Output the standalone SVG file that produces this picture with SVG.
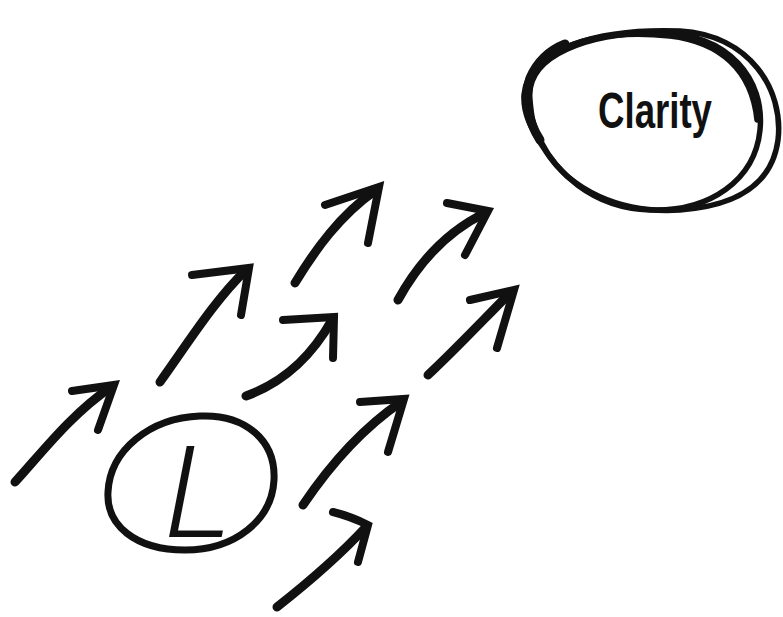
<svg xmlns="http://www.w3.org/2000/svg" width="783" height="617" viewBox="0 0 783 617">
<style>
.ink{fill:none;stroke:#111;stroke-linecap:round;stroke-linejoin:round}
.shaft{stroke-width:9}
.head{stroke-width:8;stroke-linejoin:miter;stroke-miterlimit:10}
.loop{stroke-width:5.5}
</style>
<rect width="783" height="617" fill="#fff"/>
<g id="arrows">
<g id="arrow-a"><path class="ink shaft" d="M15,482 C40,455 70,415 111,387"/><path class="ink head" d="M72,391 L114,385 L98,430"/></g>
<g id="arrow-b"><path class="ink shaft" d="M160,382 C190,340 215,300 246,270"/><path class="ink head" d="M192,275 L249,268 L241,315"/></g>
<g id="arrow-c"><path class="ink shaft" d="M246,396 C290,380 315,350 332,320"/><path class="ink head" d="M283,320 L334,317 L333,358"/></g>
<g id="arrow-d"><path class="ink shaft" d="M295,283 C315,250 340,215 376,190"/><path class="ink head" d="M325,205 L379,187 L368,243"/></g>
<g id="arrow-e"><path class="ink shaft" d="M398,300 C420,260 450,230 485,213"/><path class="ink head" d="M447,203 L488,211 L465,255"/></g>
<g id="arrow-f"><path class="ink shaft" d="M428,375 C455,350 485,318 511,292"/><path class="ink head" d="M470,300 L514,290 L497,348"/></g>
<g id="arrow-g"><path class="ink shaft" d="M303,505 C330,465 360,430 401,402"/><path class="ink head" d="M360,402 L404,399 L388,452"/></g>
<g id="arrow-h"><path class="ink shaft" d="M277,607 C305,585 340,555 366,527"/><path class="ink head" d="M333,512 C345,515 358,520 368,525 L358,562"/></g>
</g>
<g id="node-l">
<path class="ink" stroke-width="7" d="M200,416 C245,414 276,440 274,480 C272,520 235,550 185,550 C135,550 106,525 108,492 C110,450 150,418 200,416 Z"/>
<text x="158" y="537" transform="skewX(-11) translate(104,0)" font-family="Roboto, 'Liberation Sans', sans-serif" font-weight="300" font-size="128" fill="#111">L</text>
</g>
<g id="node-clarity">
<path class="ink loop" d="M530,100 C525,55 590,32 660,33 C730,34 765,80 760,130 C755,180 710,212 650,210 C590,208 555,170 540,140 C532,124 531,112 530,100 Z"/>
<path class="ink loop" d="M524,95 C528,48 600,28 680,31 C750,35 784,90 778,140 C772,185 735,206 680,210 C620,214 570,190 545,150 C530,128 523,112 524,95 Z"/>
<path class="ink loop" d="M535,70 C560,40 610,30 670,36 C720,42 752,70 757,120"/>
<path class="ink" stroke-width="9" d="M540,140 C526,118 524,95 530,78 C538,60 550,50 565,44"/>
<text x="598" y="128" font-family="'Liberation Sans Narrow', 'Liberation Sans', sans-serif" font-weight="bold" font-size="50" textLength="114" lengthAdjust="spacingAndGlyphs" fill="#111">Clarity</text>
</g>
</svg>
